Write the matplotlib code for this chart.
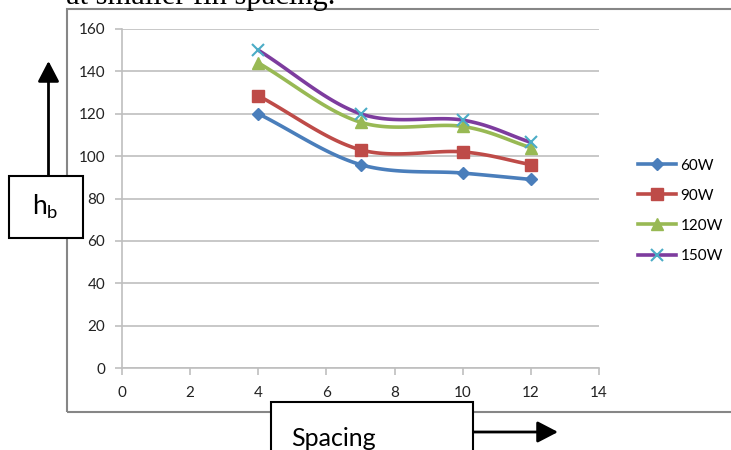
import numpy as np
import matplotlib
matplotlib.use("Agg")
import matplotlib.pyplot as plt
from matplotlib.patches import Rectangle, FancyArrowPatch

# ---- data ----
spacing = [4, 7, 10, 12]
series_names = ["60W", "90W", "120W", "150W"]
h_60 = [120, 96, 92, 89]
h_90 = [128.5, 103, 102, 96]
h_120 = [144, 116, 114, 104]
h_150 = [150, 120, 117, 106.5]
x_ticks = [0, 2, 4, 6, 8, 10, 12, 14]
y_ticks = [0, 20, 40, 60, 80, 100, 120, 140, 160]

line_colors = ["#4A7EBB", "#BE4B48", "#98B954", "#7D3C9E"]
marker_face = ["#4A7EBB", "#BE4B48", "#98B954", "#4BACC6"]
markers = ["D", "s", "^", "x"]
msizes = [6.5, 8, 8, 9]

W, H = 731, 450
fig = plt.figure(figsize=(W / 100, H / 100), dpi=100)
FONT = ["Lato", "DejaVu Sans"]
plt.rcParams["font.family"] = FONT


def fx(px):
    return px / W


def fy(py):
    return 1 - py / H


def smooth(xs, ys, n=40):
    # Catmull-Rom spline through the points (like spreadsheet "smoothed line")
    P = np.column_stack([xs, ys]).astype(float)
    P = np.vstack([2 * P[0] - P[1], P, 2 * P[-1] - P[-2]])
    out = []
    for i in range(1, len(P) - 2):
        p0, p1, p2, p3 = P[i - 1], P[i], P[i + 1], P[i + 2]
        t = np.linspace(0, 1, n)[:, None]
        seg = 0.5 * ((2 * p1) + (-p0 + p2) * t + (2 * p0 - 5 * p1 + 4 * p2 - p3) * t ** 2
                     + (-p0 + 3 * p1 - 3 * p2 + p3) * t ** 3)
        out.append(seg if i == 1 else seg[1:])
    S = np.vstack(out)
    return S[:, 0], S[:, 1]


# chart outer border
fig.add_artist(Rectangle((fx(67), fy(412)), fx(740) - fx(67), fy(8.5) - fy(412),
                         transform=fig.transFigure, fill=False, edgecolor="#868686", lw=1.5))

# top caption (cut off)
fig.text(fx(66), fy(4), "at smaller fin spacing.", family=["Liberation Serif", "DejaVu Serif"],
         fontsize=22, ha="left", va="baseline", color="black")

ax = fig.add_axes([fx(122), fy(368), fx(599) - fx(122), fy(29) - fy(368)])
ax.set_xlim(0, 14)
ax.set_ylim(0, 160)
ax.set_xticks(x_ticks)
ax.set_yticks(y_ticks)
ax.grid(axis="y", color="#BFBFBF", lw=1.2)
ax.set_axisbelow(True)
for s in ["top", "right"]:
    ax.spines[s].set_visible(False)
for s in ["left", "bottom"]:
    ax.spines[s].set_color("#BFBFBF")
    ax.spines[s].set_linewidth(1.2)
ax.tick_params(axis="both", colors="#BFBFBF", length=5, width=1.2, labelsize=11,
               labelcolor="#222222")
ax.tick_params(axis="y", pad=7)
ax.tick_params(axis="x", pad=8)

all_series = [h_60, h_90, h_120, h_150]
handles = []
for name, ys, lc, mf, mk, ms in zip(series_names, all_series, line_colors, marker_face, markers, msizes):
    sx, sy = smooth(spacing, ys)
    ax.plot(sx, sy, color=lc, lw=2.6, solid_capstyle="round", zorder=3)
    if mk == "x":
        ax.plot(spacing, ys, ls="none", marker=mk, ms=ms, mew=1.5, color=mf, zorder=4)
        h, = ax.plot([], [], color=lc, lw=2.6, marker=mk, ms=ms, mew=1.5, mec=mf)
    else:
        ax.plot(spacing, ys, ls="none", marker=mk, ms=ms, mfc=mf, mec=mf, zorder=4)
        h, = ax.plot([], [], color=lc, lw=2.6, marker=mk, ms=ms, mfc=mf, mec=mf)
    handles.append(h)

leg = fig.legend(handles, series_names, loc="upper left", bbox_to_anchor=(fx(624), fy(145)),
                 frameon=False, fontsize=11, handlelength=2.5, handletextpad=0.3,
                 labelspacing=1.05)

# y label box with arrow
fig.add_artist(Rectangle((fx(9), fy(238)), fx(83) - fx(9), fy(176) - fy(238),
                         transform=fig.transFigure, fill=True, facecolor="white",
                         edgecolor="black", lw=1.5, zorder=5))
fig.text(fx(45), fy(207), r"h$_\mathregular{b}$", fontsize=19, ha="center", va="center",
         zorder=6, color="black")
fig.add_artist(FancyArrowPatch((fx(48.5), fy(176)), (fx(48.5), fy(61)),
                               transform=fig.transFigure,
                               arrowstyle="-|>,head_length=5,head_width=2.6",
                               color="black", lw=2, mutation_scale=2.5,
                               shrinkA=0, shrinkB=0))

# x label box with arrow
fig.add_artist(Rectangle((fx(271), fy(460)), fx(473) - fx(271), fy(402) - fy(460),
                         transform=fig.transFigure, fill=True, facecolor="white",
                         edgecolor="black", lw=1.5, zorder=5))
fig.text(fx(291), fy(446), "Spacing", fontsize=18, ha="left", va="baseline", zorder=6,
         color="black")
fig.add_artist(FancyArrowPatch((fx(473), fy(432)), (fx(558), fy(432)),
                               transform=fig.transFigure,
                               arrowstyle="-|>,head_length=5,head_width=2.6",
                               color="black", lw=2, mutation_scale=2.5,
                               shrinkA=0, shrinkB=0))

fig.savefig("out.png", dpi=100)
